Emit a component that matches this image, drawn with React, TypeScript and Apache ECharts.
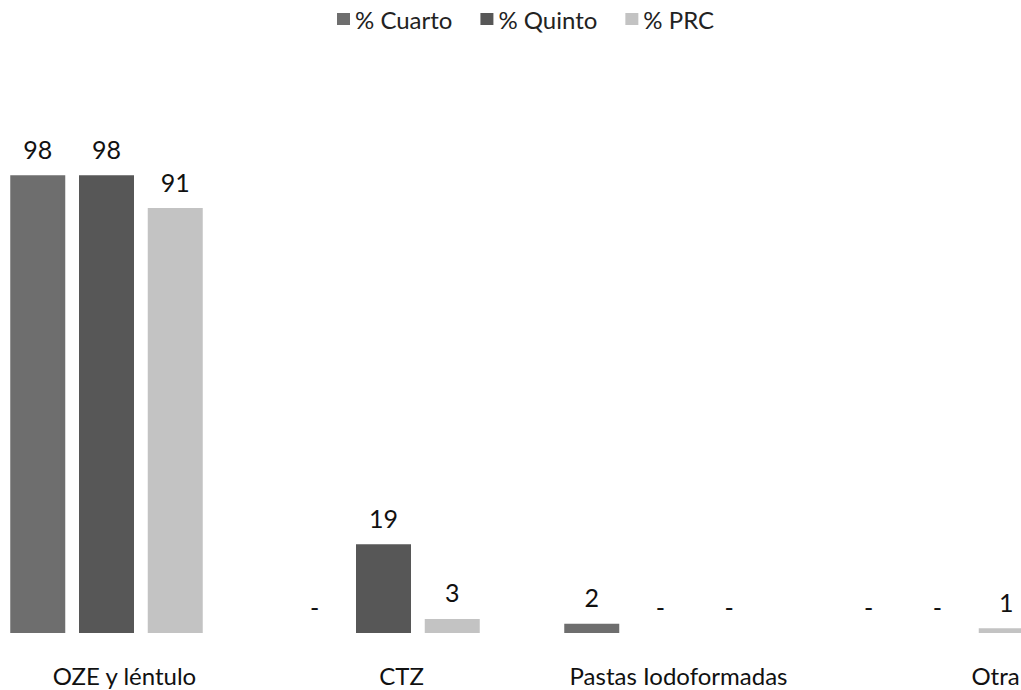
import React, { useEffect, useRef } from "react";
import * as echarts from "echarts";

const categories = ["OZE y léntulo", "CTZ", "Pastas Iodoformadas", "Otra"];
const seriesNames = ["% Cuarto", "% Quinto", "% PRC"];
const cuarto = [98, 0, 2, 0];
const quinto = [98, 19, 0, 0];
const prc = [91, 3, 0, 1];
const colors = ["#6e6e6e", "#575757", "#c3c3c3"];

const OFFSET_LEFT = 32;
const EXTRA_RIGHT = 55;

export default function App() {
  const ref = useRef<HTMLDivElement>(null);
  useEffect(() => {
    if (!ref.current) return;
    const chart = echarts.init(ref.current, null, { renderer: "svg" });
    const font = "Lato, 'Open Sans', sans-serif";
    const mk = (name: string, data: number[], color: string) => ({
      name,
      type: "bar",
      data,
      barWidth: 55,
      barGap: "25%",
      itemStyle: { color },
      label: {
        show: true,
        position: "top",
        distance: 14,
        fontSize: 25,
        fontFamily: font,
        color: "#111",
        formatter: (p: any) => (p.value === 0 ? "-" : String(p.value)),
      },
    });
    chart.setOption({
      animation: false,
      backgroundColor: "#fff",
      legend: {
        top: 2,
        left: 332 + OFFSET_LEFT,
        itemWidth: 13,
        itemHeight: 12,
        itemGap: 28,
        icon: "rect",
        textStyle: { fontSize: 24, fontFamily: font, color: "#222" },
      },
      grid: { left: 0, right: 0, top: 166, bottom: 57, containLabel: false },
      xAxis: {
        type: "category",
        data: categories.map((c, i) => ({
          value: c,
          textStyle: { padding: [0, 0, 0, i === 3 ? 116 : 36] },
        })),
        axisLine: { show: false },
        axisTick: { show: false },
        axisLabel: { fontSize: 24, fontFamily: font, color: "#111", margin: 30, interval: 0 },
      },
      yAxis: {
        type: "value",
        min: 0,
        max: 100,
        show: false,
        splitLine: { show: false },
      },
      series: [
        mk(seriesNames[0], cuarto, colors[0]),
        mk(seriesNames[1], quinto, colors[1]),
        mk(seriesNames[2], prc, colors[2]),
      ],
    });
    return () => chart.dispose();
  }, []);
  return (
    <div style={{ position: "absolute", left: 0, top: 0, width: 1021, height: 690, overflow: "hidden", background: "#fff" }}>
      <div
        ref={ref}
        style={{
          position: "absolute",
          left: -OFFSET_LEFT,
          top: 0,
          width: 1021 + OFFSET_LEFT + EXTRA_RIGHT,
          height: 690,
        }}
      />
    </div>
  );
}
